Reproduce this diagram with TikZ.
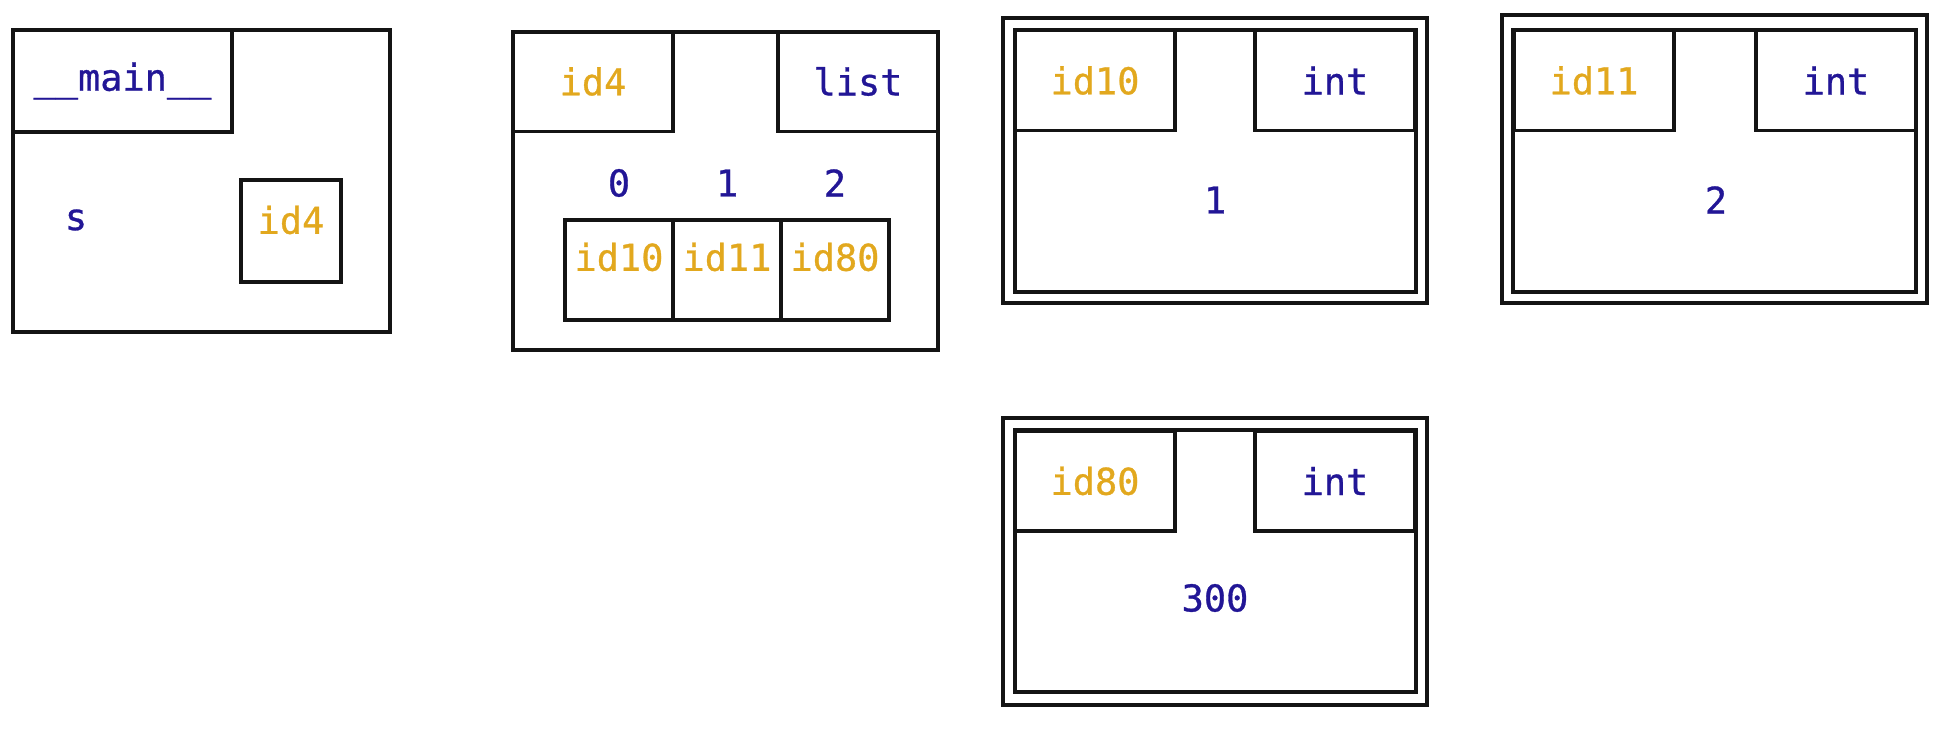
\documentclass[tikz,border=0pt]{standalone}
\usepackage{fontspec}
\usepackage{xcolor}
\usepackage{tikz}
\usetikzlibrary{positioning}
\newfontfamily\codefont{DejaVu Sans Mono}[FakeBold=0.8]
\definecolor{objInk}  {gray}{0.08}
\definecolor{refGold} {RGB}{226,168,30}
\definecolor{typeBlue}{RGB}{34,22,150}

\begin{document}
\begin{tikzpicture}[x=0.01cm, y=-0.01cm,
      frame/.style={draw=objInk, line width=1.1pt, inner sep=0pt},
      hdr/.style={draw=objInk, line width=1.1pt, inner sep=0pt,
                  minimum width=1.6cm, minimum height=1.0cm},
      cell/.style={draw=objInk, line width=1.1pt, inner sep=0pt,
                   minimum width=1.08cm, minimum height=1.0cm},
      idtxt/.style={text=refGold, font=\codefont\fontsize{10.5}{12}\selectfont},
      typetxt/.style={text=typeBlue, font=\codefont\fontsize{10.5}{12}\selectfont}]

    \useasboundingbox (0,0) rectangle (1948,734);

    % frame __main__
    \node[frame, minimum width=3.77cm, minimum height=3.02cm] (mainfr) at (201.5,181) {};
    \node[hdr, typetxt, minimum width=2.19cm, minimum height=1.02cm] (mainhdr) at (122.5,81) {\_\_main\_\_};
    \node[typetxt] (svar) at (76,220) {s};
    \node[cell, minimum width=1.0cm, minimum height=1.02cm] (sref) at (291,231) {};
    \node[idtxt] (sreftxt) at (291,220) {id4};

    % list object
    \node[frame, minimum width=4.25cm, minimum height=3.18cm] (listfr) at (725.5,191) {};
    \node[hdr, idtxt]   (listid)   at (593,81.5) {id4};
    \node[hdr, typetxt] (listtype) at (858,81.5) {list};
    \node[typetxt] (idx0) at (619,183) {0};
    \node[typetxt] (idx1) at (727,183) {1};
    \node[typetxt] (idx2) at (835,183) {2};
    \node[cell] (el0) at (619,270) {};
    \node[cell] (el1) at (727,270) {};
    \node[cell] (el2) at (835,270) {};
    \node[idtxt] (el0txt) at (619,257) {id10};
    \node[idtxt] (el1txt) at (727,257) {id11};
    \node[idtxt] (el2txt) at (835,257) {id80};

    % int object 1
    \node[frame, minimum width=4.24cm, minimum height=2.85cm] (oneout) at (1215,160.5) {};
    \node[frame, minimum width=4.01cm, minimum height=2.62cm] (onein)  at (1215.5,161) {};
    \node[hdr, idtxt]   (oneid)   at (1095,80.5) {id10};
    \node[hdr, typetxt] (onetype) at (1335,80.5) {int};
    \node[typetxt] (oneval) at (1215,200) {1};

    % int object 2
    \node[frame, minimum width=4.25cm, minimum height=2.88cm] (twoout) at (1714.5,159) {};
    \node[frame, minimum width=4.03cm, minimum height=2.62cm] (twoin)  at (1714.5,161) {};
    \node[hdr, idtxt]   (twoid)   at (1594,80.5) {id11};
    \node[hdr, typetxt] (twotype) at (1836,80.5) {int};
    \node[typetxt] (twoval) at (1716,200) {2};

    % int object 300
    \node[frame, minimum width=4.24cm, minimum height=2.87cm] (bigout) at (1215,561.5) {};
    \node[frame, minimum width=4.01cm, minimum height=2.62cm] (bigin)  at (1215.5,561) {};
    \node[hdr, idtxt]   (bigid)   at (1095,481) {id80};
    \node[hdr, typetxt] (bigtype) at (1335,481) {int};
    \node[typetxt] (bigval) at (1215,598) {300};
  \end{tikzpicture}
\end{document}
